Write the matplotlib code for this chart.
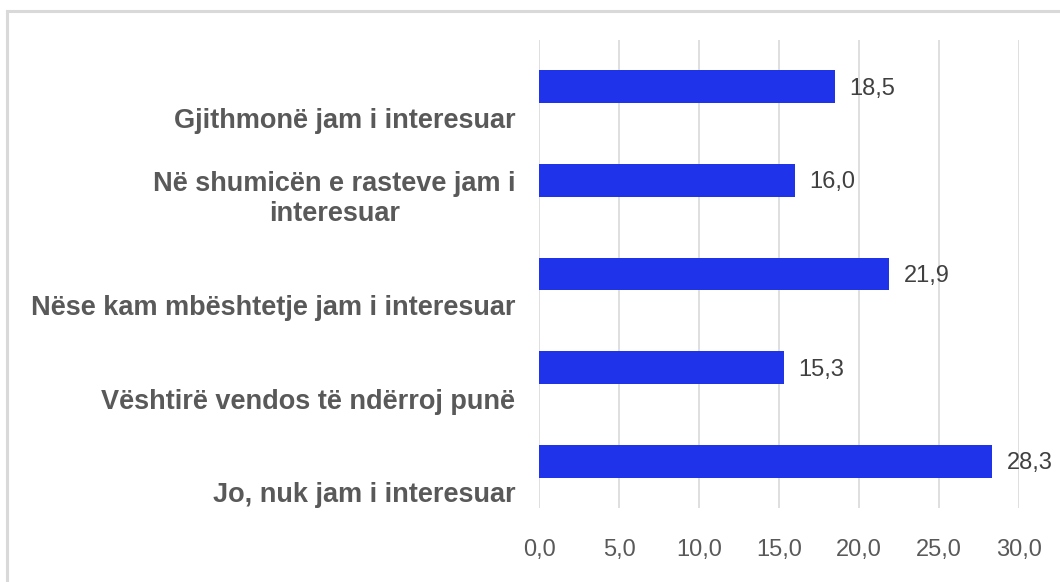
import matplotlib.pyplot as plt
from matplotlib.lines import Line2D
from matplotlib.ticker import FuncFormatter

# categories top to bottom, and their values
categories = [
    "Gjithmonë jam i interesuar",
    "Në shumicën e rasteve jam i\ninteresuar",
    "Nëse kam mbështetje jam i interesuar",
    "Vështirë vendos të ndërroj punë",
    "Jo, nuk jam i interesuar",
]
values = [18.5, 16.0, 21.9, 15.3, 28.3]
x_ticks = [0, 5, 10, 15, 20, 25, 30]

plt.rcParams['font.family'] = ['Liberation Sans', 'DejaVu Sans']

W, H = 1060, 582
fig = plt.figure(figsize=(W / 100, H / 100), dpi=100)
ax = fig.add_axes([539 / W, 1 - 508 / H, (1019 - 539) / W, (508 - 40) / H])

# frame around the chart (light gray, only top and left visible)
fig.add_artist(Line2D([7 / W, 1], [1 - 11 / H, 1 - 11 / H], color='#d9d9d9', lw=2.2,
                      transform=fig.transFigure))
fig.add_artist(Line2D([7 / W, 7 / W], [0, 1 - 11 / H], color='#d9d9d9', lw=2.2,
                      transform=fig.transFigure))

n = len(categories)
ypos = list(range(n))
ax.barh(ypos, values, height=0.35, color='#1f33ea', zorder=3)
ax.set_ylim(n - 0.5, -0.5)
ax.set_xlim(0, 30)

# value labels next to bars
for y, v in zip(ypos, values):
    ax.annotate(f"{v:.1f}".replace('.', ','), xy=(v, y), xytext=(10.5, -1.5),
                textcoords='offset points', va='center', ha='left',
                fontsize=17, color='#404040')

# category labels, bottom-aligned a little below the bar
for y, lab in zip(ypos, categories):
    ax.annotate(lab, xy=(0, y), xytext=(-17, -29.5), textcoords='offset points',
                ha='right', va='baseline', ma='center', fontsize=19.5,
                fontweight='bold', color='#595959', linespacing=1.22)

ax.set_yticks([])
ax.set_xticks(x_ticks)
ax.xaxis.set_major_formatter(FuncFormatter(lambda v, p: f"{v:.1f}".replace('.', ',')))
ax.tick_params(axis='x', length=0, pad=22, labelsize=17, labelcolor='#595959')
ax.grid(axis='x', color='#d9d9d9', lw=1.2, zorder=0)
for s in ax.spines.values():
    s.set_visible(False)

fig.savefig('out.png', dpi=100)
